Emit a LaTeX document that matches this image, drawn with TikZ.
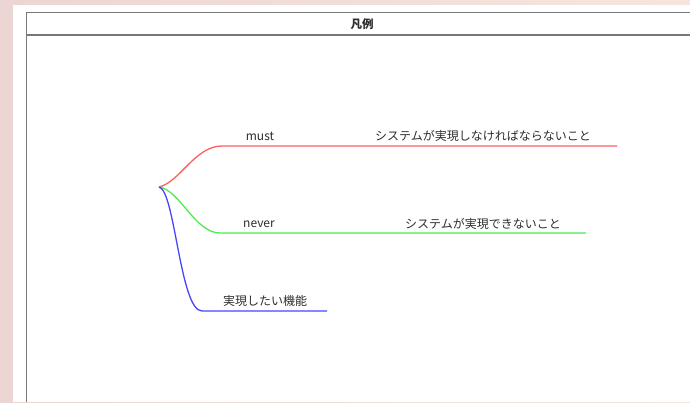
\documentclass[tikz,border=0pt]{standalone}
\usepackage{fontspec}
\setmainfont{Noto Sans CJK JP}
\usetikzlibrary{positioning}

\definecolor{bgpink}{RGB}{236,214,212}
\definecolor{bgpeach}{RGB}{247,229,221}
\definecolor{framegray}{RGB}{120,120,120}
\definecolor{mustred}{RGB}{255,95,95}
\definecolor{nevergreen}{RGB}{80,235,80}
\definecolor{wantblue}{RGB}{70,70,255}
\definecolor{labeltext}{RGB}{45,45,45}

\begin{document}
\begin{tikzpicture}[
    x=1pt, y=-1pt,
    every node/.style={inner sep=1pt, text=labeltext,
        font=\fontsize{12}{14}\selectfont},
    branch/.style={line width=1.3pt},
    frameline/.style={draw=framegray, line width=1.9pt}
]
\useasboundingbox (0,0) rectangle (690,402);

% Fondo y marco
\shade[left color=bgpink, right color=bgpeach] (0,0) rectangle (690,402);
\fill[white] (13,5) rectangle (690,402);
\draw[frameline] (26.5,402) -- (26.5,12.5) -- (690,12.5);
\draw[frameline] (26.5,35) -- (690,35);

\node[font=\bfseries\fontsize{11.5}{13}\selectfont] (title) at (362,24) {凡例};

% Puntos de las ramas
\coordinate (root) at (159,187);
\coordinate (mustStart) at (222,146);
\coordinate (mustEnd) at (617,146);
\coordinate (neverStart) at (220,233);
\coordinate (neverEnd) at (586,233);
\coordinate (wantStart) at (202,311);
\coordinate (wantEnd) at (327,311);

% Ramas
\draw[branch, mustred] (root)
    .. controls (180,182) and (195,146) .. (mustStart) -- (mustEnd);
\draw[branch, nevergreen] (root)
    .. controls (180,190) and (195,233) .. (neverStart) -- (neverEnd);
\draw[branch, wantblue] (root)
    .. controls (175,190) and (180,311) .. (wantStart) -- (wantEnd);

% Etiquetas
\node (mustLabel) at (260,136) {must};
\node (mustText) at (483,136) {システムが実現しなければならないこと};
\node (neverLabel) at (259,224) {never};
\node (neverText) at (483,224) {システムが実現できないこと};
\node (wantText) at (265,301) {実現したい機能};

\end{tikzpicture}
\end{document}
